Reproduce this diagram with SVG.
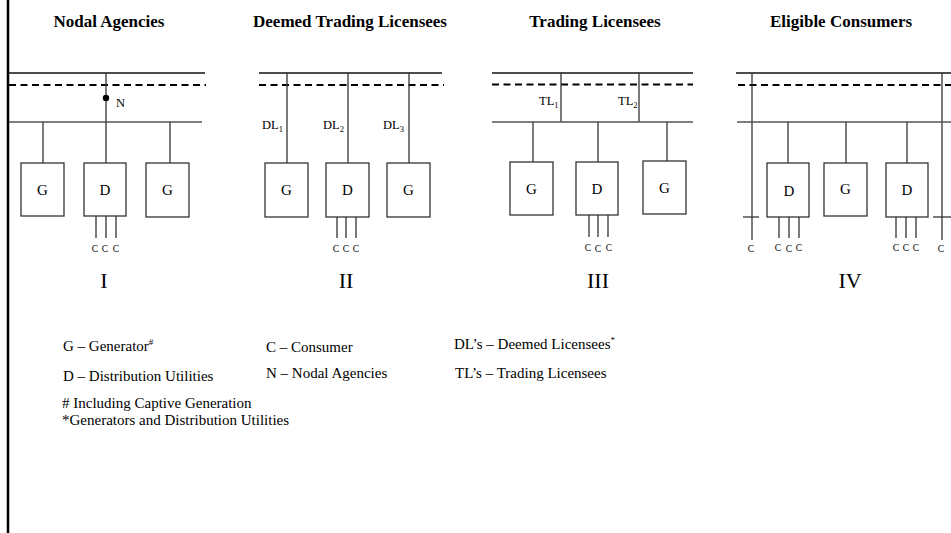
<svg xmlns="http://www.w3.org/2000/svg" width="951" height="533" viewBox="0 0 951 533">
<style>
.frame{stroke:#000;stroke-width:2.5}
.bus{stroke:#111;stroke-width:1.3}
.bus2{stroke:#555;stroke-width:1.6}
.dash{stroke:#000;stroke-width:2;stroke-dasharray:7 4.5}
.wire{stroke:#333;stroke-width:1.3;fill:none}
.box{fill:#fff;stroke:#333;stroke-width:1.3}
text{font-family:"Liberation Serif","Times New Roman",serif;fill:#000}
.title{font-size:17px;font-weight:bold;text-anchor:middle}
.bl{font-size:15px;text-anchor:middle}
.c{font-size:9.5px;text-anchor:middle}
.num{font-size:22px;text-anchor:middle}
.lab{font-size:12.5px}
.sub{font-size:8.5px}
.leg{font-size:15px}
.sup{font-size:9px}
</style>
<line class="frame" x1="8" y1="0" x2="8" y2="533"/>
<g id="titles">
<text class="title" x="109" y="27">Nodal Agencies</text>
<text class="title" x="350" y="27">Deemed Trading Licensees</text>
<text class="title" x="595" y="27">Trading Licensees</text>
<text class="title" x="841" y="27">Eligible Consumers</text>
</g>
<g id="connectors">
<!-- Panel I -->
<line class="bus" x1="9" y1="73" x2="205" y2="73"/>
<line class="dash" x1="9" y1="85" x2="206" y2="85"/>
<line class="wire" x1="106" y1="73" x2="106" y2="122"/>
<line class="bus2" x1="9" y1="122" x2="202" y2="122"/>
<line class="wire" x1="43" y1="122" x2="43" y2="163"/>
<line class="wire" x1="106" y1="122" x2="106" y2="163"/>
<line class="wire" x1="170" y1="122" x2="170" y2="163"/>
<line class="wire" x1="96" y1="216" x2="96" y2="238"/>
<line class="wire" x1="106" y1="216" x2="106" y2="238"/>
<line class="wire" x1="116" y1="216" x2="116" y2="238"/>
<!-- Panel II -->
<line class="bus" x1="259" y1="73" x2="442" y2="73"/>
<line class="dash" x1="259" y1="85" x2="444" y2="85"/>
<line class="wire" x1="287" y1="73" x2="287" y2="163"/>
<line class="wire" x1="348" y1="73" x2="348" y2="163"/>
<line class="wire" x1="409" y1="73" x2="409" y2="163"/>
<line class="wire" x1="337" y1="217" x2="337" y2="238"/>
<line class="wire" x1="346" y1="217" x2="346" y2="238"/>
<line class="wire" x1="356" y1="217" x2="356" y2="238"/>
<!-- Panel III -->
<line class="bus" x1="492" y1="73" x2="693" y2="73"/>
<line class="dash" x1="492" y1="84.5" x2="693" y2="84.5"/>
<line class="wire" x1="561" y1="73" x2="561" y2="122"/>
<line class="wire" x1="639" y1="73" x2="639" y2="122"/>
<line class="bus2" x1="492" y1="122" x2="693" y2="122"/>
<line class="wire" x1="533" y1="122" x2="533" y2="162"/>
<line class="wire" x1="598" y1="122" x2="598" y2="162"/>
<line class="wire" x1="667" y1="122" x2="667" y2="161"/>
<line class="wire" x1="589" y1="215" x2="589" y2="237"/>
<line class="wire" x1="598" y1="215" x2="598" y2="237"/>
<line class="wire" x1="608" y1="215" x2="608" y2="237"/>
<!-- Panel IV -->
<line class="bus" x1="736" y1="73" x2="951" y2="73"/>
<line class="dash" x1="738" y1="85" x2="951" y2="85"/>
<line class="wire" x1="752" y1="73" x2="752" y2="240"/>
<line class="wire" x1="942" y1="73" x2="942" y2="240"/>
<line class="wire" x1="743" y1="217" x2="759" y2="217"/>
<line class="wire" x1="933" y1="217" x2="951" y2="217"/>
<line class="bus2" x1="737" y1="122" x2="951" y2="122"/>
<line class="wire" x1="788" y1="122" x2="788" y2="163"/>
<line class="wire" x1="846" y1="122" x2="846" y2="163"/>
<line class="wire" x1="907" y1="122" x2="907" y2="163"/>
<line class="wire" x1="779" y1="217" x2="779" y2="238"/>
<line class="wire" x1="789" y1="217" x2="789" y2="238"/>
<line class="wire" x1="799" y1="217" x2="799" y2="238"/>
<line class="wire" x1="896" y1="217" x2="896" y2="238"/>
<line class="wire" x1="906" y1="217" x2="906" y2="238"/>
<line class="wire" x1="916" y1="217" x2="916" y2="238"/>
</g>
<!-- Panel I nodes -->
<g id="p1-N"><circle cx="106" cy="98" r="3.2" fill="#000"/><text class="lab" x="116" y="107">N</text></g>
<g id="p1-G1"><rect class="box" x="21" y="163" width="43" height="53"/><text class="bl" x="42.5" y="195">G</text></g>
<g id="p1-D"><rect class="box" x="84" y="163" width="42" height="53"/><text class="bl" x="105" y="195">D</text></g>
<g id="p1-G2"><rect class="box" x="146" y="163" width="43" height="54"/><text class="bl" x="167.5" y="195">G</text></g>
<g id="p1-C"><text class="c" x="95" y="252">C</text><text class="c" x="105" y="252">C</text><text class="c" x="116" y="252">C</text></g>
<text class="num" x="104" y="288">I</text>
<!-- Panel II nodes -->
<g id="p2-DL"><text class="lab" x="262" y="129">DL<tspan class="sub" dy="3">1</tspan></text><text class="lab" x="323" y="129">DL<tspan class="sub" dy="3">2</tspan></text><text class="lab" x="383" y="129">DL<tspan class="sub" dy="3">3</tspan></text></g>
<g id="p2-G1"><rect class="box" x="265" y="163" width="43" height="54"/><text class="bl" x="286.5" y="195">G</text></g>
<g id="p2-D"><rect class="box" x="326" y="163" width="43" height="54"/><text class="bl" x="347.5" y="195">D</text></g>
<g id="p2-G2"><rect class="box" x="387" y="163" width="43" height="54"/><text class="bl" x="408.5" y="195">G</text></g>
<g id="p2-C"><text class="c" x="336" y="252">C</text><text class="c" x="346" y="252">C</text><text class="c" x="356" y="252">C</text></g>
<text class="num" x="346" y="288">II</text>
<!-- Panel III nodes -->
<g id="p3-TL"><text class="lab" x="539" y="105">TL<tspan class="sub" dy="3">1</tspan></text><text class="lab" x="618" y="105">TL<tspan class="sub" dy="3">2</tspan></text></g>
<g id="p3-G1"><rect class="box" x="510" y="162" width="43" height="53"/><text class="bl" x="531.5" y="194">G</text></g>
<g id="p3-D"><rect class="box" x="576" y="162" width="42" height="53"/><text class="bl" x="597" y="194">D</text></g>
<g id="p3-G2"><rect class="box" x="643" y="161" width="43" height="53"/><text class="bl" x="664.5" y="193">G</text></g>
<g id="p3-C"><text class="c" x="588" y="251">C</text><text class="c" x="598" y="252">C</text><text class="c" x="609" y="251">C</text></g>
<text class="num" x="598" y="288">III</text>
<!-- Panel IV nodes -->
<g id="p4-D1"><rect class="box" x="767" y="163" width="42" height="54"/><text class="bl" x="789" y="196">D</text></g>
<g id="p4-G"><rect class="box" x="824" y="163" width="43" height="53"/><text class="bl" x="845.5" y="194">G</text></g>
<g id="p4-D2"><rect class="box" x="886" y="163" width="42" height="54"/><text class="bl" x="907" y="195">D</text></g>
<g id="p4-C"><text class="c" x="751" y="252">C</text><text class="c" x="778" y="251">C</text><text class="c" x="789" y="252">C</text><text class="c" x="799" y="251">C</text><text class="c" x="896" y="251">C</text><text class="c" x="906" y="251">C</text><text class="c" x="916" y="251">C</text><text class="c" x="941" y="252">C</text></g>
<text class="num" x="850" y="288">IV</text>
<!-- Legend -->
<g id="legend">
<text class="leg" x="63" y="351">G – Generator<tspan class="sup" dy="-6">#</tspan></text>
<text class="leg" x="63" y="381">D – Distribution Utilities</text>
<text class="leg" x="266" y="352">C – Consumer</text>
<text class="leg" x="266" y="378">N – Nodal Agencies</text>
<text class="leg" x="454" y="349">DL’s – Deemed Licensees<tspan class="sup" dy="-6">*</tspan></text>
<text class="leg" x="455" y="378">TL’s – Trading Licensees</text>
<text class="leg" x="62" y="408"># Including Captive Generation</text>
<text class="leg" x="62" y="425">*Generators and Distribution Utilities</text>
</g>
</svg>
